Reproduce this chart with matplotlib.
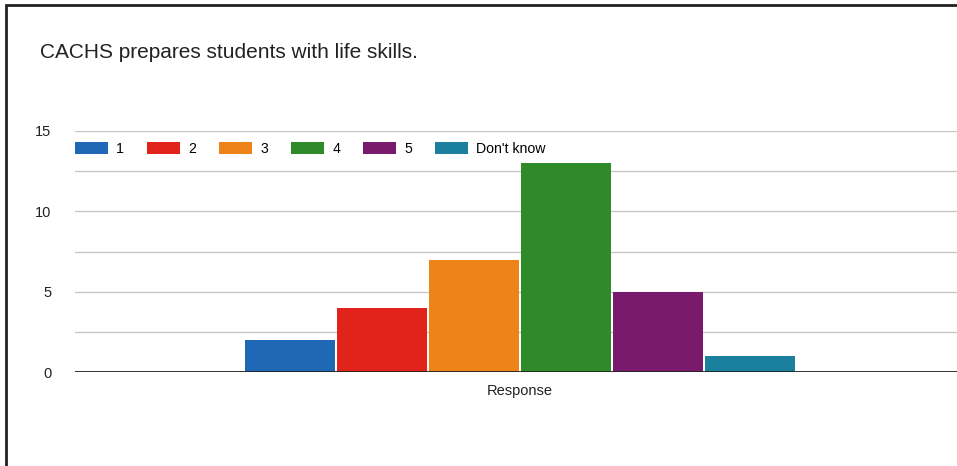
import matplotlib
matplotlib.use('Agg')
import matplotlib.pyplot as plt
import numpy as np
from matplotlib.patches import Rectangle

# Survey answer counts for one question
title = 'CACHS prepares students with life skills.'
answers = ['1', '2', '3', '4', '5', "Don't know"]
counts = [2, 4, 7, 13, 5, 1]
colors = ['#1e68b6', '#e2231c', '#ee8318', '#2f8a29', '#7a1a6c', '#1b7f9e']
yticks = [0, 5, 10, 15]

plt.rcParams['font.family'] = ['Liberation Sans', 'DejaVu Sans']

fig = plt.figure(figsize=(9.57, 4.66), dpi=100)
fig.patch.set_facecolor('white')

# scanned frame round the card (right and bottom run off the page)
fig.patches.append(Rectangle((6/957, -0.05), 1.1, (466-5)/466 + 0.05,
                             transform=fig.transFigure, fill=False,
                             edgecolor='#222222', linewidth=2.0,
                             clip_on=False))

ax = fig.add_axes([75/957, 94/466, 1 - 75/957, (372-131)/466])

x = np.arange(len(counts)) - (len(counts) - 1) / 2
for xi, c, col, lab in zip(x, counts, colors, answers):
    ax.bar(xi, c, width=0.98, color=col, label=lab, zorder=3)

ax.set_xlim((75-520)/92, (957-520)/92)
ax.set_ylim(0, 15)
ax.set_yticks(yticks)
ax.set_yticks([2.5, 7.5, 12.5], minor=True)
ax.grid(axis='y', which='both', color='#c4c4c4', linewidth=0.9, zorder=0)
ax.axhline(0, color='#222222', linewidth=2.0, zorder=4)

for s in ax.spines.values():
    s.set_visible(False)
ax.tick_params(axis='y', which='both', length=0, pad=17, labelsize=10.5,
               labelcolor='#222222')
ax.set_xticks([0])
ax.set_xticklabels(['Response'], fontsize=10.5, color='#222222')
ax.tick_params(axis='x', length=0, pad=9)

fig.text(40/957, 1 - 52/466, title, fontsize=15, color='#222222',
         va='center', ha='left')

ax.legend(loc='upper left', bbox_to_anchor=(75/957, 1 - 142/466),
          bbox_transform=fig.transFigure, ncol=6, frameon=False,
          fontsize=10.2, handlelength=2.3, handleheight=0.85,
          handletextpad=0.6, columnspacing=1.63, borderaxespad=0,
          borderpad=0)

plt.savefig('out.png', dpi=100)
